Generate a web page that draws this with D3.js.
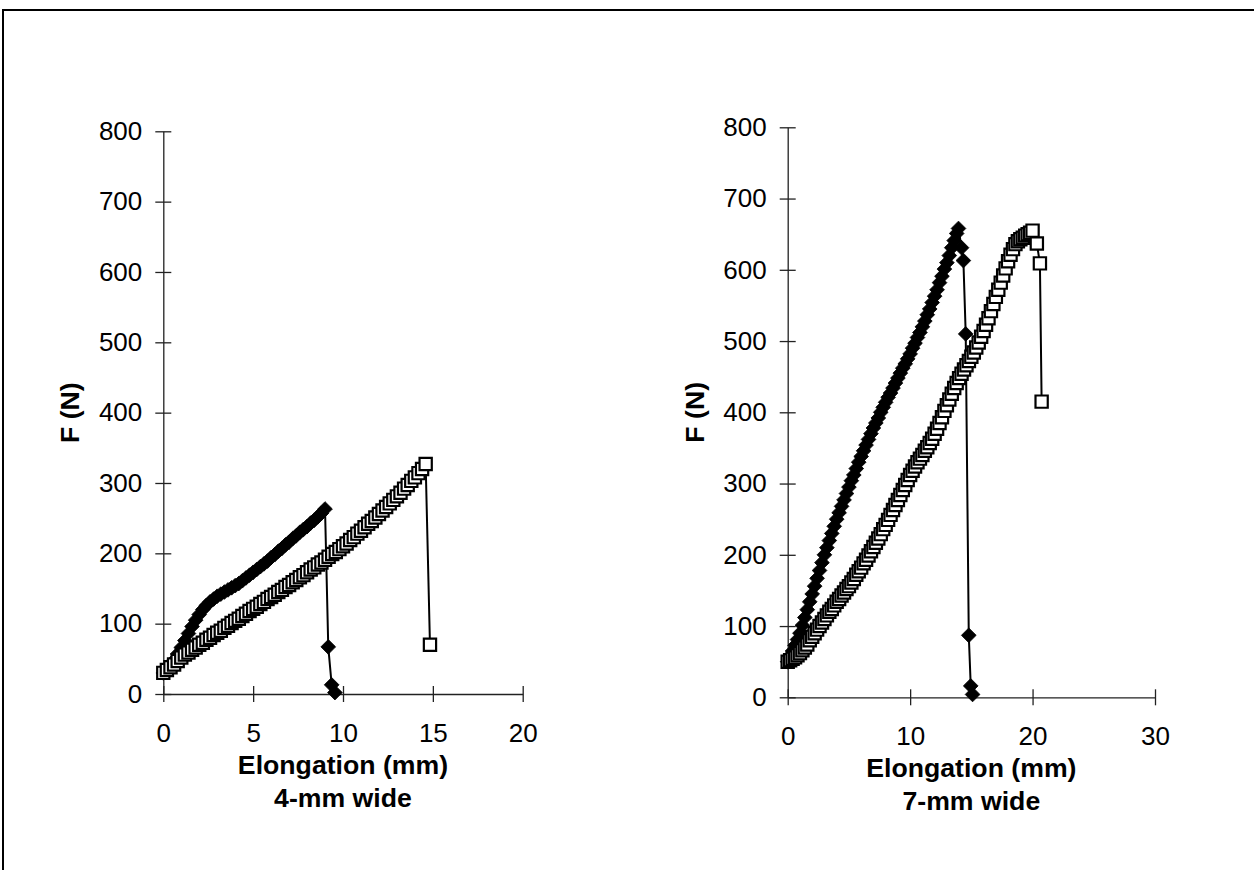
<!DOCTYPE html>
<html><head><meta charset="utf-8">
<script src="https://cdn.jsdelivr.net/npm/d3@7"></script>
<style>
body{margin:0;background:#fff}
svg{display:block}
text{font-family:"Liberation Sans",Arial,Helvetica,sans-serif;fill:#000}
</style>
</head><body>
<svg id="chart" width="1254" height="870"></svg>
<script>
// ---------- tick labels / titles ----------
const yTickValues = [0,100,200,300,400,500,600,700,800];
const xTicksLeft = [0,5,10,15,20];
const xTicksRight = [0,10,20,30];
const xTitle = "Elongation (mm)";
const yTitle = "F (N)";
const subLeft = "4-mm wide";
const subRight = "7-mm wide";

// ---------- 4-mm wide: diamonds ----------
const w4DiamondX = [0,0.2,0.4,0.6,0.8,1.0,1.2,1.4,1.6,1.8,2.0,2.2,2.4,2.6,2.8,3.0,3.2,3.4,3.6,3.8,4.0,4.2,4.4,4.6,4.8,5.0,5.2,5.4,5.6,5.8,6.0,6.2,6.4,6.6,6.8,7.0,7.2,7.4,7.6,7.8,8.0,8.2,8.4,8.6,8.8,9.0,9.18,9.37,9.55];
const w4DiamondF = [30,34,40,48,57,66,76,86,96,105,113,120,126,131,135,139,142,145,148,151,154,157,161,165,169,173,177,181,185,189,194,198,203,207,212,216,221,225,230,234,238,243,247,252,257,263,67,13,2];
// ---------- 4-mm wide: squares ----------
const w4SquareX = [0,0.2,0.4,0.6,0.8,1.0,1.2,1.4,1.6,1.8,2.0,2.2,2.4,2.6,2.8,3.0,3.2,3.4,3.6,3.8,4.0,4.2,4.4,4.6,4.8,5.0,5.2,5.4,5.6,5.8,6.0,6.2,6.4,6.6,6.8,7.0,7.2,7.4,7.6,7.8,8.0,8.2,8.4,8.6,8.8,9.0,9.2,9.4,9.6,9.8,10.0,10.2,10.4,10.6,10.8,11.0,11.2,11.4,11.6,11.8,12.0,12.2,12.4,12.6,12.8,13.0,13.2,13.4,13.6,13.8,14.0,14.2,14.4,14.6,14.84];
const w4SquareF = [30,34,38,42,47,52,56,59,63,66,70,73,77,80,84,87,90,94,97,101,104,107,111,114,118,121,124,128,131,135,138,141,145,148,152,155,159,162,166,169,173,177,180,184,187,191,195,199,202,206,210,214,219,223,228,232,237,242,246,251,256,261,266,271,276,281,286,292,297,303,308,314,320,327,70];

// ---------- 7-mm wide: diamonds ----------
const w7DiamondX = [0,0.2,0.4,0.6,0.8,1.0,1.2,1.4,1.6,1.8,2.0,2.2,2.4,2.6,2.8,3.0,3.2,3.4,3.6,3.8,4.0,4.2,4.4,4.6,4.8,5.0,5.2,5.4,5.6,5.8,6.0,6.2,6.4,6.6,6.8,7.0,7.2,7.4,7.6,7.8,8.0,8.2,8.4,8.6,8.8,9.0,9.2,9.4,9.6,9.8,10.0,10.2,10.4,10.6,10.8,11.0,11.2,11.4,11.6,11.8,12.0,12.2,12.4,12.6,12.8,13.0,13.2,13.4,13.6,13.8,13.95,14.2,14.35,14.54,14.79,14.95,15.1];
const w7DiamondF = [50,57,65,73,81,90,101,112,123,134,145,156,167,178,189,200,210,220,230,240,250,259,268,277,286,295,304,312,321,330,338,346,354,362,370,378,385,392,400,407,414,421,427,434,441,448,455,462,468,475,482,490,497,505,512,520,528,537,545,554,563,572,582,591,601,610,620,631,641,651,658,631,613,510,87,16,4];
// ---------- 7-mm wide: squares ----------
const w7SquareX = [0,0.2,0.4,0.6,0.8,1.0,1.2,1.4,1.6,1.8,2.0,2.2,2.4,2.6,2.8,3.0,3.2,3.4,3.6,3.8,4.0,4.2,4.4,4.6,4.8,5.0,5.2,5.4,5.6,5.8,6.0,6.2,6.4,6.6,6.8,7.0,7.2,7.4,7.6,7.8,8.0,8.2,8.4,8.6,8.8,9.0,9.2,9.4,9.6,9.8,10.0,10.2,10.4,10.6,10.8,11.0,11.2,11.4,11.6,11.8,12.0,12.2,12.4,12.6,12.8,13.0,13.2,13.4,13.6,13.8,14.0,14.2,14.4,14.6,14.8,15.0,15.2,15.4,15.6,15.8,16.0,16.2,16.4,16.6,16.8,17.0,17.2,17.4,17.6,17.8,18.0,18.2,18.4,18.6,18.8,19.0,19.2,19.4,19.6,19.8,20.0,20.35,20.6,20.74];
const w7SquareF = [50,52,54,56,59,62,66,70,74,80,85,90,95,100,105,110,115,120,124,129,134,138,143,147,152,156,161,166,172,177,182,188,193,199,205,211,217,223,229,236,242,249,256,263,270,277,284,291,298,305,312,318,324,330,335,340,346,351,357,363,370,377,385,393,402,410,418,426,434,441,448,454,460,466,472,478,484,491,498,506,514,523,532,542,552,562,572,582,592,602,612,621,629,636,640,643,645,648,650,652,655,637,609,415];

// ---------- drawing ----------
const svg = d3.select("#chart");

// outer frame
svg.append("rect")
  .attr("x", 3).attr("y", 10).attr("width", 1300).attr("height", 900)
  .attr("fill", "none").attr("stroke", "#000").attr("stroke-width", 2);

function panel(cfg){
  const g = svg.append("g");
  const x = d3.scaleLinear().domain(cfg.xDomain).range(cfg.xRange);
  const y = d3.scaleLinear().domain([0, 800]).range(cfg.yRange);

  // y axis
  const ya = g.append("g").attr("transform", `translate(${cfg.xRange[0]},0)`)
    .call(d3.axisLeft(y).tickValues(yTickValues).tickSize(8).tickSizeOuter(0).tickPadding(13));
  ya.selectAll(".tick line").attr("x1", 8).attr("x2", -8);
  // x axis
  const xa = g.append("g").attr("transform", `translate(0,${cfg.yRange[0]})`)
    .call(d3.axisBottom(x).tickValues(cfg.xTicks).tickSize(8).tickSizeOuter(0).tickPadding(21.5));
  xa.selectAll(".tick line").attr("y1", -8).attr("y2", 8);

  [ya, xa].forEach(a => {
    a.select(".domain").attr("stroke", "#222").attr("stroke-width", 1.3);
    a.selectAll(".tick line").attr("stroke", "#222").attr("stroke-width", 1.3);
    a.selectAll(".tick text").attr("font-size", 26).attr("font-family", '"Liberation Sans",Arial,sans-serif').attr("fill", "#000");
  });

  const xMid = (cfg.xRange[0] + cfg.xRange[1]) / 2;
  const yMid = (cfg.yRange[0] + cfg.yRange[1]) / 2;
  g.append("text").attr("x", xMid).attr("y", cfg.yRange[0] + 80)
    .attr("text-anchor", "middle").attr("font-weight", "bold").attr("font-size", 26.67).text(xTitle);
  g.append("text").attr("x", xMid).attr("y", cfg.yRange[0] + 113)
    .attr("text-anchor", "middle").attr("font-weight", "bold").attr("font-size", 26.67).text(cfg.sub);
  g.append("text").attr("transform", `translate(${cfg.xRange[0] - 84},${yMid}) rotate(-90)`)
    .attr("text-anchor", "middle").attr("font-weight", "bold").attr("font-size", 26.67).text(yTitle);

  const line = d3.line().x(d => x(d[0])).y(d => y(d[1]));

  // diamonds series
  const dData = d3.zip(cfg.dX, cfg.dF);
  g.append("path").datum(dData).attr("d", line)
    .attr("fill", "none").attr("stroke", "#000").attr("stroke-width", 2);
  const diamond = d3.symbol(d3.symbolSquare, 108)();
  g.append("g").selectAll("path").data(dData).join("path")
    .attr("d", diamond)
    .attr("transform", d => `translate(${x(d[0])},${y(d[1])}) rotate(45)`)
    .attr("fill", "#000").attr("stroke", "#000").attr("stroke-width", 0.8);

  // squares series
  const sData = d3.zip(cfg.sX, cfg.sF);
  g.append("path").datum(sData).attr("d", line)
    .attr("fill", "none").attr("stroke", "#000").attr("stroke-width", 2);
  const square = d3.symbol(d3.symbolSquare, 150)();
  g.append("g").selectAll("path").data(sData).join("path")
    .attr("d", square)
    .attr("transform", d => `translate(${x(d[0])},${y(d[1])})`)
    .attr("fill", "#fff").attr("stroke", "#000").attr("stroke-width", 2.2);
}

panel({xDomain:[0,20], xRange:[163.3,522.7], yRange:[694,131.3], xTicks:xTicksLeft, sub:subLeft,
       dX:w4DiamondX, dF:w4DiamondF, sX:w4SquareX, sF:w4SquareF});
panel({xDomain:[0,30], xRange:[787.7,1155], yRange:[697.3,127.3], xTicks:xTicksRight, sub:subRight,
       dX:w7DiamondX, dF:w7DiamondF, sX:w7SquareX, sF:w7SquareF});
</script>
</body></html>
